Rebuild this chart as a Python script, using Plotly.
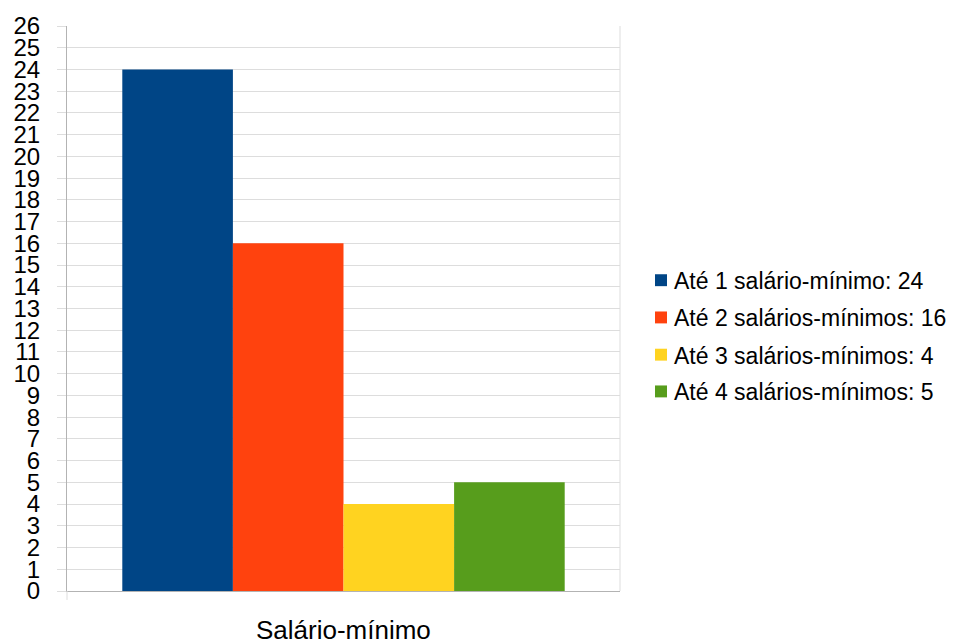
import plotly.graph_objects as go

category = ["Salário-mínimo"]
series_names = [
    "Até 1 salário-mínimo",
    "Até 2 salários-mínimos",
    "Até 3 salários-mínimos",
    "Até 4 salários-mínimos",
]
series_values = [24, 16, 4, 5]
series_colors = ["#004586", "#ff420e", "#ffd320", "#579d1c"]
y_ticks = list(range(0, 27))

FONT = "Liberation Sans, Arial, Helvetica, sans-serif"
W, H = 964, 644
ML, MR, MT, MB = 67, 344, 22, 53
PW, PH = W - ML - MR, H - MT - MB


def px_to_paper_x(px):
    return (px - ML) / PW


def px_to_paper_y(py):
    return (H - MB - py) / PH


fig = go.Figure()
for name, val, col in zip(series_names, series_values, series_colors):
    fig.add_trace(go.Bar(
        x=category,
        y=[val],
        name=f"{name}: {val}",
        marker=dict(color=col, line=dict(width=0)),
        showlegend=False,
    ))

fig.update_layout(
    width=W,
    height=H,
    margin=dict(l=ML, r=MR, t=MT, b=MB),
    paper_bgcolor="white",
    plot_bgcolor="white",
    barmode="group",
    bargap=0.2,
    bargroupgap=0,
    font=dict(family=FONT, color="#000000"),
    xaxis=dict(
        showticklabels=False,
        ticks="",
        showline=True,
        linecolor="#b3b3b3",
        linewidth=1,
        showgrid=False,
    ),
    yaxis=dict(
        range=[0, 26],
        tickvals=y_ticks,
        ticktext=[str(v) for v in y_ticks],
        tickfont=dict(size=24, family=FONT, color="#000000"),
        ticks="outside",
        ticklen=9,
        tickcolor="#dddddd",
        ticklabelstandoff=12,
        showgrid=True,
        gridcolor="#dddddd",
        gridwidth=1,
        showline=True,
        linecolor="#b3b3b3",
        linewidth=1,
        zeroline=False,
    ),
)

# right-hand frame edge of the plot area and the small tick below the origin
fig.add_shape(type="line", xref="paper", yref="paper", x0=1, x1=1, y0=0, y1=1,
              line=dict(color="#dddddd", width=1))
fig.add_shape(type="line", xref="paper", yref="paper", x0=0, x1=0,
              y0=0, y1=px_to_paper_y(H - MB + 9),
              line=dict(color="#dddddd", width=1))

# category label under the bars
fig.add_annotation(
    text=category[0], xref="paper", yref="paper",
    x=0.5, y=px_to_paper_y(630), xanchor="center", yanchor="middle",
    showarrow=False, font=dict(size=26, family=FONT, color="#000000"),
)

# legend: square swatch + label for each series
row_centers = [278, 315.5, 353, 390]
for name, val, col, cy in zip(series_names, series_values, series_colors, row_centers):
    fig.add_shape(
        type="rect", xref="paper", yref="paper",
        x0=px_to_paper_x(655), x1=px_to_paper_x(667),
        y0=px_to_paper_y(cy + 6), y1=px_to_paper_y(cy - 6),
        fillcolor=col, line=dict(width=0),
    )
    fig.add_annotation(
        text=f"{name}: {val}", xref="paper", yref="paper",
        x=px_to_paper_x(672), y=px_to_paper_y(cy + 1), xanchor="left", yanchor="middle",
        showarrow=False, font=dict(size=23, family=FONT, color="#000000"),
    )

fig.write_html("out.html")
